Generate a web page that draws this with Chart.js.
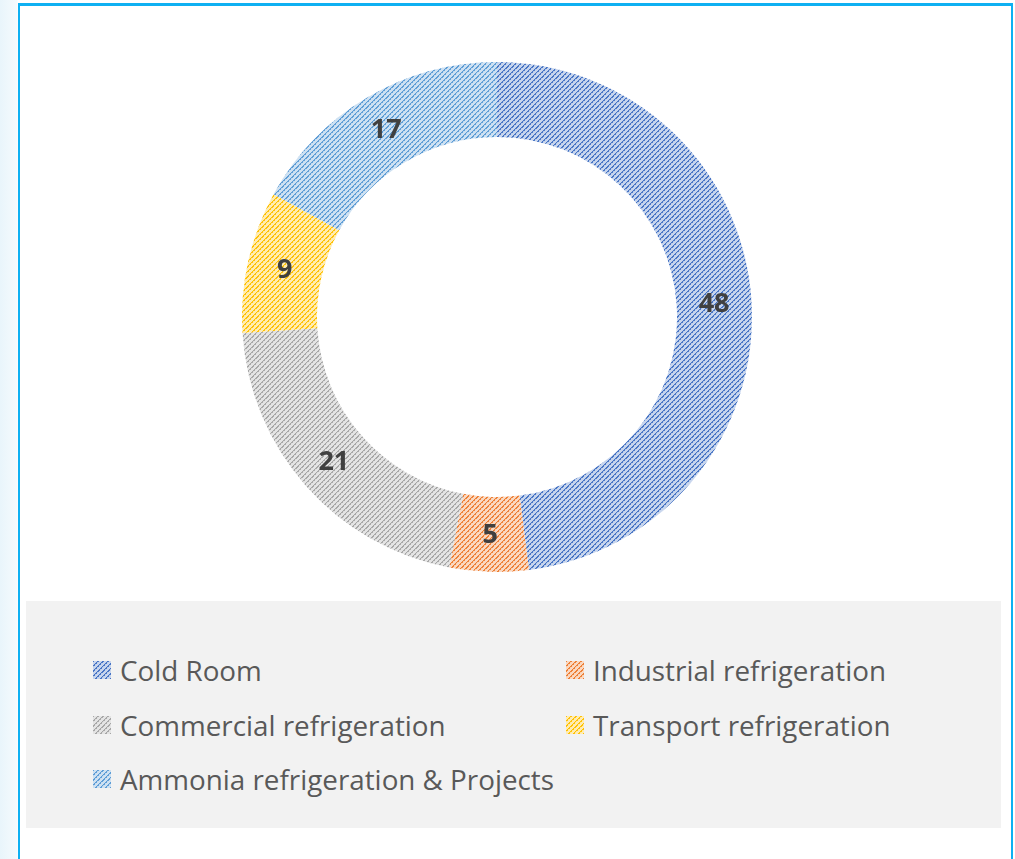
<!DOCTYPE html>
<html>
<head>
<meta charset="utf-8">
<script src="https://cdn.jsdelivr.net/npm/chart.js@4.4.0/dist/chart.umd.min.js"></script>
<style>
    html, body { margin: 0; padding: 0; }
    body {
        width: 1015px; height: 859px; position: relative; overflow: hidden;
        background: linear-gradient(to right, #e9f5fb 0px, #f5fafd 17px, #ffffff 18px);
        font-family: "Open Sans", sans-serif;
    }
    #frame {
        position: absolute; left: 18px; top: 3px; width: 991px; height: 880px;
        border: 2px solid #0eb0f2; border-top-width: 3px; border-bottom: none; background: #fff;
    }
    #chartBox { position: absolute; left: 237px; top: 57px; width: 520px; height: 520px; }
    #legend {
        position: absolute; left: 26px; top: 601px; width: 975px; height: 227px;
        background: #f2f2f2;
    }
    .item {
        position: absolute; display: flex; align-items: center; height: 36px;
        font-size: 27.8px; color: #595959; white-space: nowrap;
    }
    .item canvas { width: 18px; height: 18px; margin-right: 9px; }
</style>
</head>
<body>
<div id="frame"></div>
<div id="chartBox"><canvas id="donut" width="520" height="520"></canvas></div>
<div id="legend"></div>

<script>
// Data
const categories = ['Cold Room', 'Industrial refrigeration', 'Commercial refrigeration', 'Transport refrigeration', 'Ammonia refrigeration & Projects'];
const values = [48, 5, 21, 9, 17];
const colors = ['#4472c4', '#ed7d31', '#a5a5a5', '#ffc000', '#5b9bd5'];

// legend grid: column / row of each category
const legendCols = [0, 1, 0, 1, 0];
const legendRows = [0, 0, 1, 1, 2];

function hexToRgb(hex) {
    const n = parseInt(hex.slice(1), 16);
    return [(n >> 16) & 255, (n >> 8) & 255, n & 255];
}

// Office style "dark upward diagonal" hatch: coloured dotted lines over a pale tint
function makePattern(color) {
    const size = 10;
    const tile = document.createElement('canvas');
    tile.width = size;
    tile.height = size;
    const tctx = tile.getContext('2d');
    const img = tctx.createImageData(size, size);
    const [r, g, b] = hexToRgb(color);
    for (let y = 0; y < size; y++) {
        for (let x = 0; x < size; x++) {
            const i = (y * size + x) * 4;
            const k = (x + y) % 5;
            let t = 0.3; // tint amount
            if (k === 4) t = 1;
            else if (k === 0) t = (x - y + 20) % 4 < 2 ? 0.95 : 0.45;
            img.data[i] = Math.round(255 - (255 - r) * t);
            img.data[i + 1] = Math.round(255 - (255 - g) * t);
            img.data[i + 2] = Math.round(255 - (255 - b) * t);
            img.data[i + 3] = 255;
        }
    }
    tctx.putImageData(img, 0, 0);
    return tctx.createPattern(tile, 'repeat');
}

const patterns = colors.map(makePattern);

// Draw the values in the middle of each slice
const sliceLabels = {
    id: 'sliceLabels',
    afterDatasetsDraw(chart) {
        const ctx = chart.ctx;
        const meta = chart.getDatasetMeta(0);
        ctx.save();
        ctx.font = 'bold 27px "Open Sans", sans-serif';
        ctx.fillStyle = '#404040';
        ctx.textAlign = 'center';
        ctx.textBaseline = 'middle';
        meta.data.forEach((arc, i) => {
            const p = arc.tooltipPosition();
            ctx.fillText(String(chart.data.datasets[0].data[i]), p.x, p.y + 1);
        });
        ctx.restore();
    }
};

const donutChart = new Chart(document.getElementById('donut').getContext('2d'), {
    type: 'doughnut',
    data: {
        labels: categories,
        datasets: [{
            data: values,
            backgroundColor: patterns,
            borderWidth: 0
        }]
    },
    options: {
        responsive: false,
        animation: false,
        cutout: '70.6%',
        layout: { padding: 5 },
        plugins: {
            legend: { display: false },
            tooltip: { enabled: false }
        }
    },
    plugins: [sliceLabels]
});

// HTML legend in two columns
const legendEl = document.getElementById('legend');
categories.forEach((name, i) => {
    const item = document.createElement('div');
    item.className = 'item';
    item.style.left = (legendCols[i] === 0 ? 67 : 540) + 'px';
    item.style.top = (51 + legendRows[i] * 54.5) + 'px';
    const sw = document.createElement('canvas');
    sw.width = 18;
    sw.height = 18;
    const sctx = sw.getContext('2d');
    sctx.fillStyle = patterns[i];
    sctx.fillRect(0, 0, 18, 18);
    const label = document.createElement('span');
    label.textContent = name;
    item.appendChild(sw);
    item.appendChild(label);
    legendEl.appendChild(item);
});
</script>
</body>
</html>
